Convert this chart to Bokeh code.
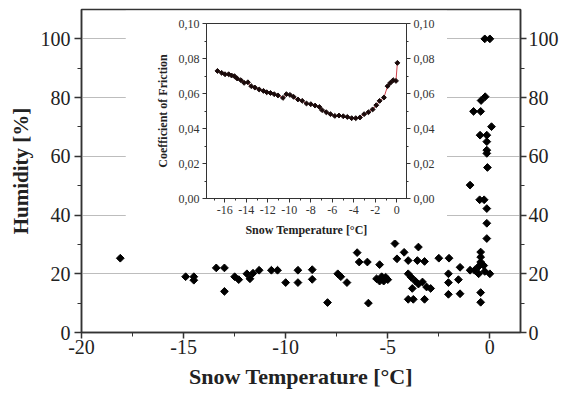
import math
from bokeh.plotting import figure
from bokeh.models import Range1d, LinearAxis, FixedTicker, CustomJSTickFormatter
from bokeh.layouts import column
from bokeh.embed import file_html
from bokeh.resources import INLINE

# ---- main scatter: snow temperature [°C] vs humidity [%]
temp = [-18.1, -14.9, -14.5, -14.5, -13.4, -13.0, -13.0, -12.5, -12.3, -11.9,
        -11.75, -11.6, -11.3, -10.7, -10.4, -10.0, -9.4, -9.4, -8.7, -8.7,
        -7.95, -7.45, -7.3, -7.0, -6.5, -6.4, -6.0, -5.95, -5.4, -5.55,
        -5.4, -5.3, -5.2, -5.1, -5.0, -4.65, -4.55, -4.2, -4.0, -4.0,
        -3.85, -3.65, -3.8, -3.5, -3.3, -3.1, -2.9, -3.5, -3.55, -3.2,
        -4.0, -3.75, -3.2, -2.5, -2.0, -2.03, -2.03, -2.03, -1.46, -1.54,
        -1.46, -0.97, -0.5, -0.28, -0.15, -0.15, -0.15, -0.45, -0.45, -0.45,
        -0.55, -0.3, -0.75, -0.97, -0.55, -0.25, 0.0, -0.45, -0.45, -0.25,
        0.0, -0.23, -0.43, -0.8, -0.45, 0.08, -0.48, -0.15, -0.15, -0.15,
        -0.15, -0.12]
humidity = [25.3, 19.0, 19.0, 17.8, 22.0, 22.0, 14.0, 19.0, 18.0, 20.0,
            18.3, 20.2, 21.2, 21.2, 21.2, 17.0, 21.2, 17.0, 21.4, 18.1,
            10.2, 20.0, 19.0, 17.0, 27.2, 24.0, 24.0, 10.0, 23.1, 18.3,
            17.5, 19.0, 17.5, 18.8, 18.0, 30.3, 25.1, 27.3, 24.5, 20.0,
            18.8, 17.5, 15.0, 16.5, 17.2, 15.5, 15.0, 29.1, 24.5, 24.2,
            11.3, 11.3, 11.3, 25.3, 25.3, 20.0, 17.0, 13.0, 22.2, 18.0,
            13.2, 50.2, 45.2, 45.2, 42.2, 37.2, 32.0, 27.4, 25.7, 24.0,
            22.5, 22.8, 21.2, 21.2, 20.0, 20.8, 20.0, 13.6, 10.3, 100.0,
            100.0, 80.3, 79.0, 75.3, 75.3, 70.1, 67.2, 67.2, 65.0, 62.1,
            61.0, 56.2]

x_ticks = [-20, -15, -10, -5, 0]
x_minor = [-17.5, -12.5, -7.5, -2.5]
y_ticks = [0, 20, 40, 60, 80, 100]
y_minor = [10, 30, 50, 70, 90]
grid_ticks = [20, 40, 60, 80, 100]

# ---- inset: coefficient of friction vs snow temperature
inset_temp = [-16.68, -16.29, -15.98, -15.64, -15.37, -15.1, -14.85, -14.5, -14.2, -13.85,
              -13.54, -13.2, -12.8, -12.4, -12.1, -11.75, -11.4, -11.05, -10.59, -10.27,
              -9.93, -9.6, -9.2, -8.8, -8.4, -8.0, -7.6, -7.2, -6.95, -6.56,
              -6.17, -5.77, -5.38, -4.98, -4.6, -4.2, -3.82, -3.43, -3.04, -2.64,
              -2.25, -1.91, -1.6, -1.2, -0.86, -0.6, -0.34, -0.08, 0.05]
inset_cof = [0.0729, 0.0718, 0.0710, 0.0710, 0.0703, 0.0699, 0.0686, 0.0676, 0.0661, 0.0664,
             0.0642, 0.0634, 0.0623, 0.0615, 0.0607, 0.0603, 0.0596, 0.0589, 0.0575, 0.0596,
             0.0592, 0.0581, 0.0566, 0.0558, 0.0543, 0.0539, 0.0531, 0.0523, 0.0505, 0.0493,
             0.0482, 0.0472, 0.0474, 0.0470, 0.0466, 0.0459, 0.0459, 0.0463, 0.0482, 0.0493,
             0.0509, 0.0533, 0.0558, 0.0577, 0.0642, 0.0661, 0.0676, 0.0672, 0.0775]

inset_x_ticks = [-16, -14, -12, -10, -8, -6, -4, -2, 0]
inset_x_minor = [-17, -15, -13, -11, -9, -7, -5, -3, -1]
inset_y_ticks = [0.0, 0.02, 0.04, 0.06, 0.08, 0.10]
inset_y_minor = [0.01, 0.03, 0.05, 0.07, 0.09]

FONT = "Liberation Serif"
AX = "#333333"

W, H = 561, 398
p = figure(width=W, height=H, x_range=Range1d(-20, 1.5), y_range=Range1d(0, 110),
           output_backend="svg", toolbar_location=None,
           min_border_left=81, min_border_right=41, min_border_top=9, min_border_bottom=66)
p.outline_line_color = AX
p.outline_line_width = 1.5
p.background_fill_color = "white"
p.border_fill_color = "white"

right_axis = LinearAxis()
p.add_layout(right_axis, "right")

for ax in [p.xaxis[0], p.yaxis[0], right_axis]:
    ax.axis_line_color = AX
    ax.axis_line_width = 1.5
    ax.major_tick_line_color = AX
    ax.minor_tick_line_color = AX
    ax.major_tick_line_width = 1.5
    ax.major_tick_out = 7
    ax.major_tick_in = 0
    ax.minor_tick_out = 4
    ax.minor_tick_in = 0
    ax.major_label_text_font = FONT
    ax.major_label_text_font_size = "20px"
    ax.major_label_text_color = "#222222"
    ax.major_label_standoff = 4
    ax.axis_label_text_font = FONT
    ax.axis_label_text_font_size = "21px"
    ax.axis_label_text_font_style = "bold"
    ax.axis_label_text_color = "#222222"

p.xaxis[0].ticker = FixedTicker(ticks=x_ticks, minor_ticks=x_minor)
p.xaxis[0].formatter = CustomJSTickFormatter(code="return tick.toString();")
p.xaxis[0].major_tick_out = 6
p.xaxis[0].major_label_standoff = 1
p.yaxis[0].ticker = FixedTicker(ticks=y_ticks, minor_ticks=y_minor)
right_axis.ticker = FixedTicker(ticks=y_ticks, minor_ticks=y_minor)
right_axis.major_tick_out = 6
right_axis.major_label_standoff = 2
p.xaxis[0].axis_label = "Snow Temperature [°C]"
p.xaxis[0].axis_label_text_font_size = "22px"
p.xaxis[0].axis_label_standoff = 7
p.yaxis[0].axis_label = "Humidity [%]"
p.yaxis[0].axis_label_standoff = 5

p.xgrid.visible = False
p.ygrid.ticker = FixedTicker(ticks=grid_ticks)
p.ygrid.grid_line_color = "#bdbdbd"
p.ygrid.grid_line_width = 1

p.scatter(temp, humidity, marker="square", size=5.5, angle=math.pi / 4,
          fill_color="black", line_color="black", line_width=1)

# ---- inset figure
IW, IH = 322, 230
q = figure(width=IW, height=IH, x_range=Range1d(-17.7, 0.9), y_range=Range1d(0, 0.10),
           output_backend="svg", toolbar_location=None,
           min_border_left=50, min_border_right=35, min_border_top=13, min_border_bottom=42)
q.outline_line_color = "#333333"
q.outline_line_width = 1
q.background_fill_color = "white"
q.border_fill_color = "white"
q.xgrid.visible = False
q.ygrid.visible = False

q_right = LinearAxis()
q.add_layout(q_right, "right")
for ax in [q.xaxis[0], q.yaxis[0], q_right]:
    ax.axis_line_color = "#333333"
    ax.major_tick_line_color = "#333333"
    ax.minor_tick_line_color = "#333333"
    ax.major_tick_out = 4
    ax.major_tick_in = 0
    ax.minor_tick_out = 2
    ax.minor_tick_in = 0
    ax.major_label_text_font = FONT
    ax.major_label_text_font_size = "12px"
    ax.major_label_text_color = "#333333"
    ax.major_label_standoff = 3
    ax.axis_label_text_font = FONT
    ax.axis_label_text_font_size = "12px"
    ax.axis_label_text_font_style = "bold"
    ax.axis_label_text_color = "#222222"

q.xaxis[0].ticker = FixedTicker(ticks=inset_x_ticks, minor_ticks=inset_x_minor)
q.xaxis[0].formatter = CustomJSTickFormatter(code="return tick.toString();")
q.yaxis[0].ticker = FixedTicker(ticks=inset_y_ticks, minor_ticks=inset_y_minor)
q_right.ticker = FixedTicker(ticks=inset_y_ticks, minor_ticks=inset_y_minor)
q.yaxis[0].formatter = CustomJSTickFormatter(code="return tick.toFixed(2).replace('.', ',');")
q_right.formatter = CustomJSTickFormatter(code="return tick.toFixed(2).replace('.', ',');")
q.xaxis[0].axis_label = "Snow Temperature [°C]"
q.xaxis[0].axis_label_standoff = 6
q.yaxis[0].axis_label = "Coefficient of Friction"
q.yaxis[0].axis_label_standoff = 6

q.line(inset_temp, inset_cof, line_color="#d0404a", line_width=1)
q.scatter(inset_temp, inset_cof, marker="square", size=3.5, angle=math.pi / 4,
          fill_color="#1a0a0a", line_color="#1a0a0a", line_width=1)

# overlay inset on the main plot via negative top margin
top_off = 10
left_off = 125
q.margin = (-(H - top_off), 0, H - top_off - IH, left_off)

layout = column(p, q, spacing=0)
open("out.html", "w").write(file_html(layout, INLINE))
